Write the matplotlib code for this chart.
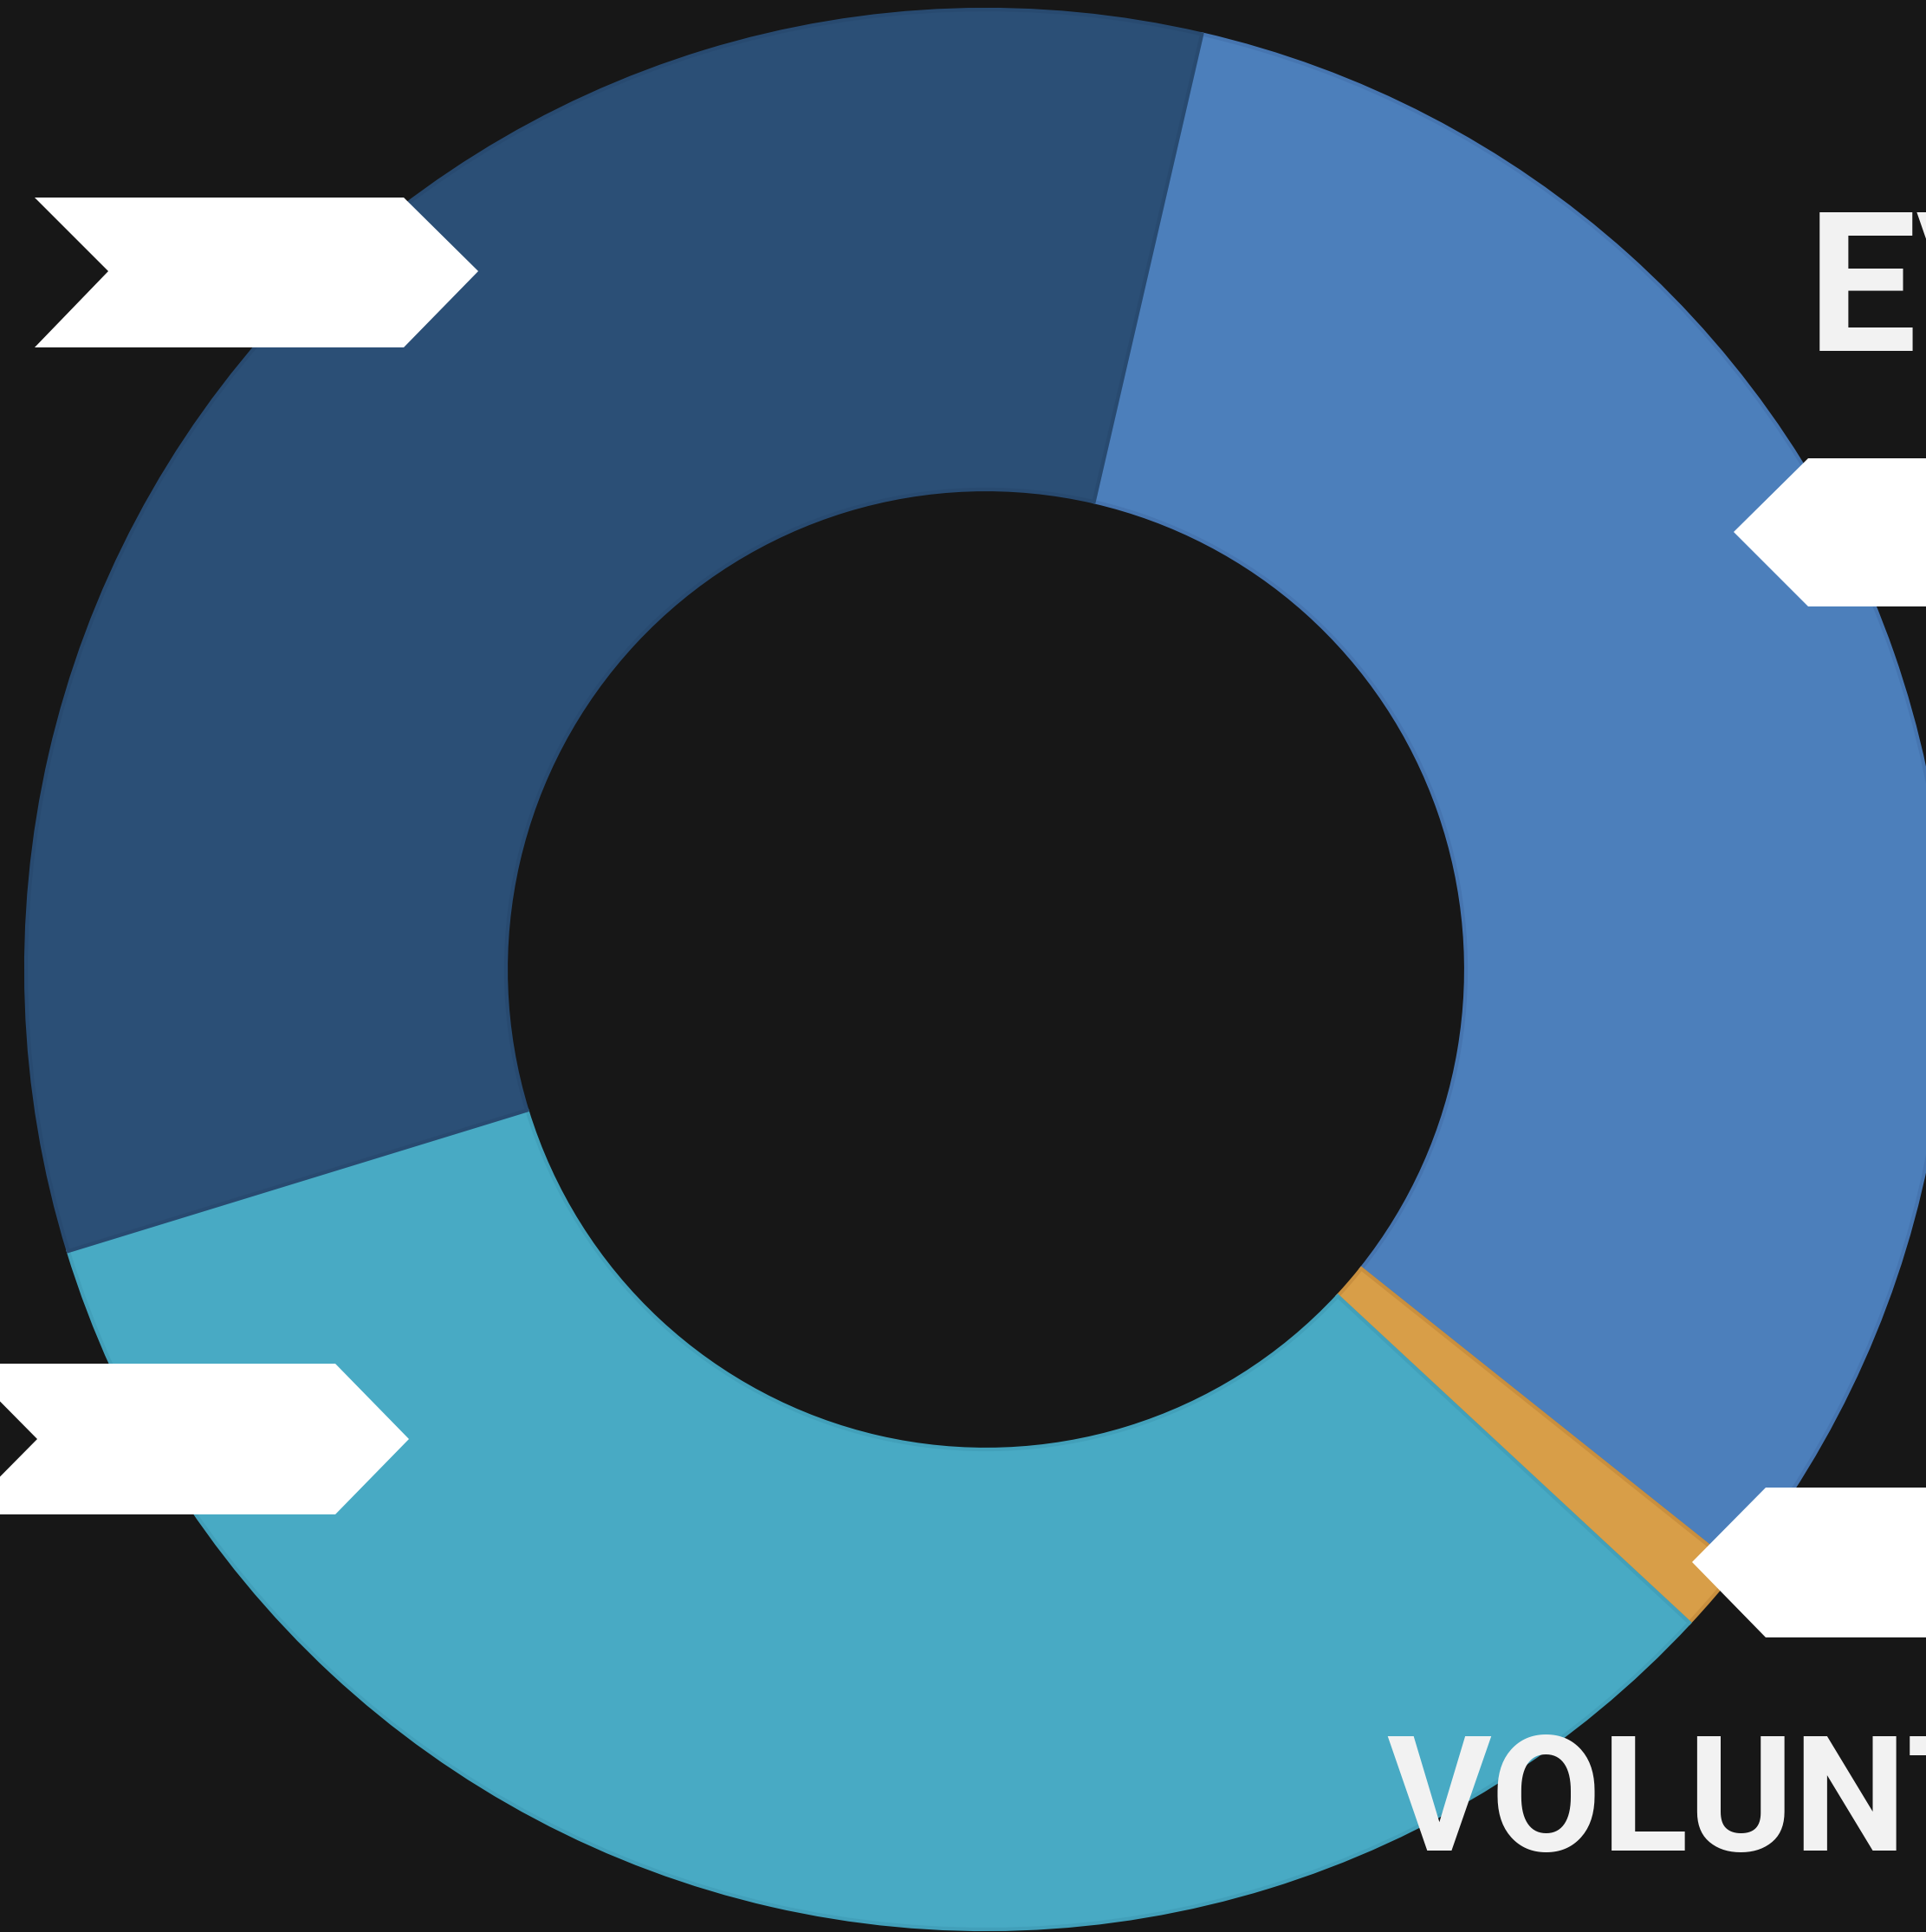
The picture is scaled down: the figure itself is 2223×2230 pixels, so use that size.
import matplotlib
matplotlib.use("Agg")
import matplotlib.pyplot as plt
from matplotlib.patches import Polygon

# ---- data ----
categories = ["Segment B", "Segment D", "Segment C", "Segment A"]
values = [32.1, 1.2, 33.35, 33.35]
colors = ["#4C7FBB", "#D89E48", "#48AAC4", "#2B4F76"]
edge_colors = ["#4675B0", "#C98F3E", "#42A0BA", "#284A70"]
label_top = "EV"
label_bottom = "VOLUNT"

W, H = 2223, 2230
fig = plt.figure(figsize=(W / 100, H / 100), dpi=100)
fig.patch.set_facecolor("#171717")
ax = fig.add_axes([0, 0, 1, 1])
ax.set_facecolor("#171717")

cx, cy = 1138, H - 1119
R = 1108
wedges, _ = ax.pie(values, radius=R, center=(cx, cy), startangle=77,
                   counterclock=False, colors=colors,
                   wedgeprops=dict(width=R * 0.5, linewidth=3), frame=True)
for w, ec in zip(wedges, edge_colors):
    w.set_edgecolor(ec)
ax.set_xlim(0, W)
ax.set_ylim(0, H)
ax.set_aspect("equal")
ax.axis("off")

def yi(y):
    return H - y

white = "#FFFFFF"
# top-left chevron
ax.add_patch(Polygon([(40, yi(228)), (466, yi(228)), (552, yi(313)), (466, yi(401)),
                      (40, yi(401)), (125, yi(313))], closed=True, fc=white, ec="none", zorder=5))
# right pentagon (upper)
ax.add_patch(Polygon([(2001, yi(614)), (2087, yi(529)), (2300, yi(529)), (2300, yi(700)),
                      (2087, yi(700))], closed=True, fc=white, ec="none", zorder=5))
# bottom-left chevron
ax.add_patch(Polygon([(-43, yi(1574)), (387, yi(1574)), (472, yi(1661)), (387, yi(1748)),
                      (-43, yi(1748)), (43, yi(1661))], closed=True, fc=white, ec="none", zorder=5))
# right pentagon (lower)
ax.add_patch(Polygon([(1953, yi(1803)), (2038, yi(1717)), (2300, yi(1717)), (2300, yi(1890)),
                      (2038, yi(1890))], closed=True, fc=white, ec="none", zorder=5))

ax.text(2086, yi(405), label_top, color="#F2F2F2", fontsize=162, family="Roboto",
        fontweight="bold", ha="left", va="baseline", zorder=6, clip_on=False)
ax.text(1600, yi(2136), label_bottom, color="#F2F2F2", fontsize=133, family="Roboto",
        fontweight="bold", ha="left", va="baseline", zorder=6, clip_on=False)

fig.savefig("out.png", dpi=100, facecolor=fig.get_facecolor())
